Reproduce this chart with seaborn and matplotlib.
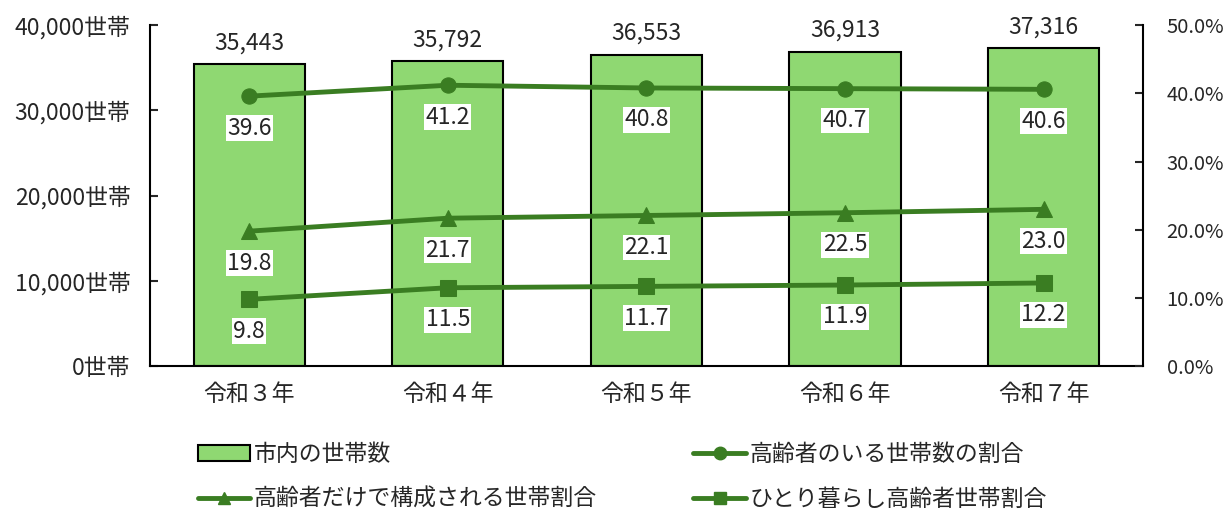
import numpy as np
import pandas as pd
import seaborn as sns
import matplotlib.pyplot as plt
from matplotlib.lines import Line2D
from matplotlib.patches import Patch

years = ['令和３年', '令和４年', '令和５年', '令和６年', '令和７年']
households = [35443, 35792, 36553, 36913, 37316]
elderly_rate = [39.6, 41.2, 40.8, 40.7, 40.6]
elderly_only_rate = [19.8, 21.7, 22.1, 22.5, 23.0]
single_elderly_rate = [9.8, 11.5, 11.7, 11.9, 12.2]

bar_color = '#8fd872'
line_color = '#3a7d22'
fs = 16.5

sns.set_style('white')
plt.rcParams['font.family'] = ['Noto Sans CJK JP', 'DejaVu Sans']

fig = plt.figure(figsize=(12.25, 5.15), dpi=100)
ax = fig.add_axes([0.1224, 0.289, 0.8106, 0.662])

df = pd.DataFrame({'year': years, 'households': households})
sns.barplot(data=df, x='year', y='households', color=bar_color, width=0.56,
            edgecolor='black', linewidth=1.5, saturation=1, ax=ax)
ax.set_ylim(0, 40000)
ax.set_xlim(-0.5, 4.5)
ax.set_yticks([0, 10000, 20000, 30000, 40000])
ax.set_yticklabels([f'{v:,}世帯' for v in [0, 10000, 20000, 30000, 40000]], fontsize=fs)
ax.set_xlabel('')
ax.set_ylabel('')
ax.tick_params(axis='x', labelsize=fs, length=0, pad=12)
ax.tick_params(axis='y', direction='in', length=6, width=1.5, left=True, pad=14)
for i, v in enumerate(households):
    ax.annotate(f'{v:,}', (i, v), xytext=(0, 7), textcoords='offset points',
                ha='center', va='bottom', fontsize=fs)

ax2 = ax.twinx()
series = [(elderly_rate, 'o'), (elderly_only_rate, '^'), (single_elderly_rate, 's')]
xs = np.arange(len(years))
for vals, m in series:
    sns.lineplot(x=xs, y=vals, ax=ax2, color=line_color, linewidth=3.5,
                 marker=m, markersize=11, markeredgecolor=line_color)
    for i, v in enumerate(vals):
        ax2.annotate(f'{v:.1f}', (i, v), xytext=(0, -23), textcoords='offset points',
                     ha='center', va='center', fontsize=fs,
                     bbox=dict(facecolor='white', edgecolor='none', pad=1.0))
ax2.set_ylim(0, 50)
ax2.set_yticks([0, 10, 20, 30, 40, 50])
ax2.set_yticklabels([f'{v:.1f}%' for v in [0, 10, 20, 30, 40, 50]], fontsize=14.5)
ax2.tick_params(axis='y', direction='in', length=6, width=1.5, right=True, pad=17)
ax2.set_xlim(-0.5, 4.5)

for a in (ax, ax2):
    for s in a.spines.values():
        s.set_visible(False)
ax.spines['left'].set_visible(True)
ax.spines['bottom'].set_visible(True)
ax2.spines['right'].set_visible(True)
for a in (ax, ax2):
    for s in a.spines.values():
        s.set_linewidth(1.5)
        s.set_color('black')

handles = [
    Patch(facecolor=bar_color, edgecolor='black', linewidth=1.5, label='市内の世帯数'),
    Line2D([], [], color=line_color, linewidth=3.5, marker='o', markersize=9, label='高齢者のいる世帯数の割合'),
    Line2D([], [], color=line_color, linewidth=3.5, marker='^', markersize=9, label='高齢者だけで構成される世帯割合'),
    Line2D([], [], color=line_color, linewidth=3.5, marker='s', markersize=9, label='ひとり暮らし高齢者世帯割合'),
]
order = [handles[0], handles[2], handles[1], handles[3]]
fig.legend(handles=order, ncol=2, loc='upper left', bbox_to_anchor=(0.152, 0.162),
           frameon=False, fontsize=fs, handlelength=2.3, columnspacing=4.2,
           handletextpad=0.15, labelspacing=0.95, borderpad=0)

fig.savefig('out.png', dpi=100)
